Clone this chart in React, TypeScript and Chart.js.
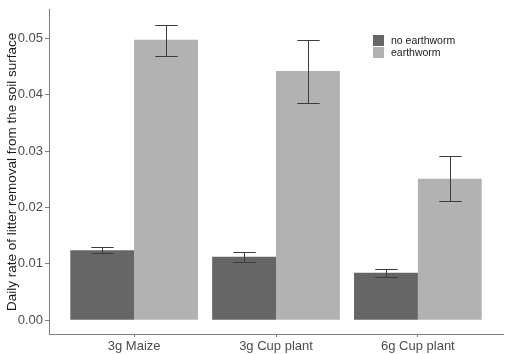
import React, { useEffect, useRef } from "react";
import { Chart, registerables } from "chart.js";

Chart.register(...registerables);

const categories = ["3g Maize", "3g Cup plant", "6g Cup plant"];
const seriesNames = ["no earthworm", "earthworm"];
const noEarthworm = [0.01242, 0.01127, 0.00842];
const noEarthwormLow = [0.01196, 0.01028, 0.00767];
const noEarthwormHigh = [0.01294, 0.01214, 0.00918];
const earthworm = [0.0498, 0.04425, 0.0251];
const earthwormLow = [0.0469, 0.03855, 0.0211];
const earthwormHigh = [0.0524, 0.0498, 0.0291];
const yTicks = [0, 0.01, 0.02, 0.03, 0.04, 0.05];
const colors = ["#666666", "#b2b2b2"];

const lows = [noEarthwormLow, earthwormLow];
const highs = [noEarthwormHigh, earthwormHigh];

const errorBarPlugin = {
  id: "errorBars",
  afterDatasetsDraw(chart: any) {
    const ctx = chart.ctx;
    const y = chart.scales.y;
    ctx.save();
    ctx.strokeStyle = "#3c3c3c";
    ctx.lineWidth = 1;
    chart.data.datasets.forEach((ds: any, di: number) => {
      const meta = chart.getDatasetMeta(di);
      meta.data.forEach((el: any, i: number) => {
        const x = Math.round(el.x) + 0.5;
        const half = el.width * 0.175;
        const yl = Math.round(y.getPixelForValue(lows[di][i])) + 0.5;
        const yh = Math.round(y.getPixelForValue(highs[di][i])) + 0.5;
        ctx.beginPath();
        ctx.moveTo(x, yl);
        ctx.lineTo(x, yh);
        ctx.moveTo(x - half, yl);
        ctx.lineTo(x + half, yl);
        ctx.moveTo(x - half, yh);
        ctx.lineTo(x + half, yh);
        ctx.stroke();
      });
    });
    ctx.restore();
  },
};

const legendPlugin = {
  id: "insideLegend",
  afterDraw(chart: any) {
    const ctx = chart.ctx;
    ctx.save();
    ctx.font = "10.5px 'Liberation Sans', Arial, sans-serif";
    ctx.textBaseline = "middle";
    ctx.textAlign = "left";
    seriesNames.forEach((name, i) => {
      const top = 35 + i * 12;
      ctx.fillStyle = colors[i];
      ctx.fillRect(373, top, 11, 11);
      ctx.fillStyle = "#1a1a1a";
      ctx.fillText(name, 391, top + 6);
    });
    ctx.restore();
  },
};

export default function App() {
  const ref = useRef<HTMLCanvasElement>(null);
  useEffect(() => {
    if (!ref.current) return;
    const chart = new Chart(ref.current, {
      type: "bar",
      data: {
        datasets: [
          {
            label: seriesNames[0],
            data: noEarthworm.map((v, i) => ({ x: i + 1, y: v })),
            backgroundColor: colors[0],
            borderWidth: 0,
          },
          {
            label: seriesNames[1],
            data: earthworm.map((v, i) => ({ x: i + 1, y: v })),
            backgroundColor: colors[1],
            borderWidth: 0,
          },
        ],
      },
      options: {
        animation: false,
        responsive: false,
        maintainAspectRatio: false,
        layout: { padding: { top: 4, right: 3, left: 0, bottom: 0 } },
        datasets: { bar: { categoryPercentage: 0.9, barPercentage: 1 } },
        plugins: { legend: { display: false }, tooltip: { enabled: false } },
        scales: {
          x: {
            type: "linear",
            min: 0.4,
            max: 3.6,
            offset: false,
            afterBuildTicks: (s: any) => {
              s.ticks = categories.map((_, i) => ({ value: i + 1 }));
            },
            afterFit: (s: any) => {
              s.height = 20;
            },
            ticks: {
              callback: (v: any) => categories[Number(v) - 1] ?? "",
              font: { family: "'Liberation Sans', Arial, sans-serif", size: 13 },
              color: "#4d4d4d",
              padding: 2,
              maxRotation: 0,
              autoSkip: false,
            },
            grid: { display: true, offset: false, drawOnChartArea: false, drawTicks: true, tickLength: 3, color: "#7f7f7f" },
            border: { display: true, color: "#7f7f7f", width: 1 },
          },
          y: {
            type: "linear",
            min: -0.00244,
            max: 0.0551,
            afterBuildTicks: (s: any) => {
              s.ticks = yTicks.map((v) => ({ value: v }));
            },
            afterFit: (s: any) => {
              s.width = 49;
            },
            ticks: {
              callback: (v: any) => Number(v).toFixed(2),
              font: { family: "'Liberation Sans', Arial, sans-serif", size: 13 },
              color: "#4d4d4d",
              padding: 2,
            },
            grid: { display: true, drawOnChartArea: false, drawTicks: true, tickLength: 4, color: "#7f7f7f" },
            border: { display: true, color: "#7f7f7f", width: 1 },
            title: {
              display: true,
              text: "Daily rate of litter removal from the soil surface",
              font: { family: "'Liberation Sans', Arial, sans-serif", size: 13.5 },
              color: "#1a1a1a",
              padding: { top: 4, bottom: 0 },
            },
          },
        },
      },
      plugins: [errorBarPlugin, legendPlugin],
    });
    return () => chart.destroy();
  }, []);
  return (
    <div style={{ position: "fixed", left: 0, top: 0, width: 506, height: 354, background: "#fff" }}>
      <canvas ref={ref} width={506} height={354} style={{ width: 506, height: 354, display: "block" }} />
    </div>
  );
}
